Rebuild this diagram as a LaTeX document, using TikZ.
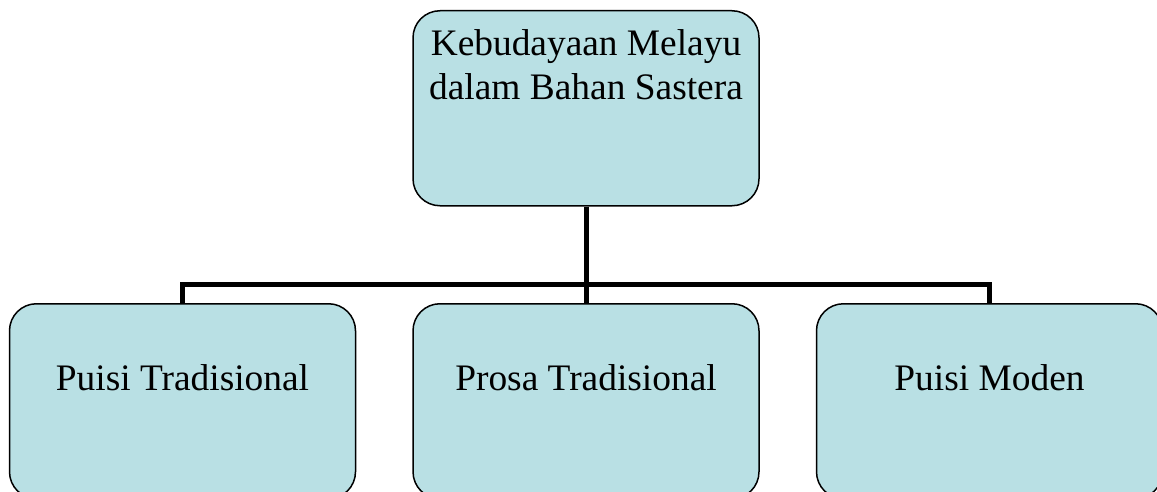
\documentclass[tikz,border=0pt]{standalone}
\usepackage{fontspec}
\setmainfont{Liberation Serif}
\definecolor{boxblue}{RGB}{185,224,228}
\tikzset{
  box/.style={draw, line width=0.75pt, fill=boxblue, rounded corners=13.5pt,
    minimum width=173pt, inner sep=0pt, align=center,
    font=\fontsize{18.7pt}{22pt}\selectfont},
  conn/.style={line width=2.5pt}
}
\begin{document}
\begin{tikzpicture}[x=0.5pt,y=-0.5pt]
    \useasboundingbox (0,0) rectangle (1157,492);
    \clip (0,0) rectangle (1157,492);
    \node (kebudayaan) [box, anchor=north, text height=44.5pt, text depth=53pt] at (586,10) {Kebudayaan Melayu\\dalam Bahan Sastera};
    \node (puisi) [box, anchor=north, text height=43.5pt, text depth=54pt] at (182.5,303) {Puisi Tradisional};
    \node (prosa) [box, anchor=north, text height=43.5pt, text depth=54pt] at (586,303) {Prosa Tradisional};
    \node (moden) [box, anchor=north, text height=43.5pt, text depth=54pt] at (989.5,303) {Puisi Moden};
    \coordinate (bar) at (586,284);
    \draw[conn] (kebudayaan) -- (prosa);
    \draw[conn] (puisi.north) |- (bar) -| (moden.north);
  \end{tikzpicture}
\end{document}
